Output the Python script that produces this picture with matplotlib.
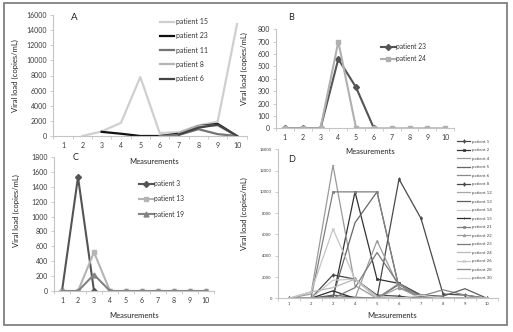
import matplotlib
matplotlib.use("Agg")
import matplotlib.pyplot as plt
import numpy as np
from matplotlib.patches import Rectangle

plt.rcParams['font.family'] = ['Lato', 'DejaVu Sans']

W, H = 513, 332
nan = np.nan

measurements = list(range(1, 11))
x_labels = [str(m) for m in measurements]

# ---------- Panel A ----------
a_names = ["patient 15", "patient 23", "patient 11", "patient 8", "patient 6"]
a_p15 = [nan, 0, 600, 1750, 7800, 400, 500, 1400, 1900, 14800]
a_p23 = [nan, nan, 550, 300, 0, 0, 300, 1300, 1600, 0]
a_p11 = [nan, nan, nan, nan, nan, 0, 150, 900, 250, 0]
a_p8 = [nan, nan, nan, nan, nan, nan, 400, 1300, 1400, 0]
a_p6 = [nan, nan, nan, nan, nan, nan, 200, 1100, 1500, 0]
a_colors = ["#cfcfcf", "#111111", "#747474", "#b4b4b4", "#444444"]

# ---------- Panel B ----------
b_names = ["patient 23", "patient 24"]
b_p23 = [0, 0, 0, 560, 330, 0, nan, nan, nan, nan]
b_p24 = [0, 0, 0, 700, 0, 0, 0, 0, 0, 0]

# ---------- Panel C ----------
c_names = ["patient 3", "patient 13", "patient 19"]
c_p3 = [0, 1530, 0, nan, nan, nan, nan, nan, nan, nan]
c_p13 = [0, 0, 520, 0, 0, 0, 0, 0, 0, 0]
c_p19 = [0, 0, 220, 0, 0, 0, 0, 0, 0, 0]

# ---------- Panel D ----------
d_names = ["patient 1", "patient 2", "patient 4", "patient 5", "patient 6",
           "patient 8", "patient 12", "patient 13", "patient 14", "patient 15",
           "patient 21", "patient 22", "patient 23", "patient 24", "patient 26",
           "patient 28", "patient 30"]
d_values = [
    [0, 0, 0, 0, 0, 11200, 7500, 400, 300, 0],        # 1
    [0, 0, 0, 10000, 1800, 1400, 300, 0, 0, 0],       # 2
    [0, 400, 12500, 1200, 0, 0, 0, 0, 0, 0],          # 4
    [0, 0, 200, 7100, 10000, 1000, 200, 0, 0, 0],     # 5
    [0, 0, 0, 0, 0, 0, 200, 800, 300, 0],             # 6
    [0, 0, 2200, 1800, 300, 200, 0, 0, 0, 0],         # 8
    [0, 0, 0, 0, 0, 1000, 300, 0, 0, 0],              # 12
    [0, 0, 300, 100, 0, 1300, 300, 200, 900, 0],      # 13
    [0, 0, 1700, 1800, 0, 0, 0, 0, 0, 0],             # 14
    [0, 0, 700, 0, 0, 0, 0, 0, 0, 0],                 # 15
    [0, 0, 10000, 10000, 10000, 1000, 200, 0, 0, 0],  # 21
    [0, 0, 0, 0, 5400, 1000, 0, 0, 0, 0],             # 22
    [0, 0, 0, 1000, 4300, 1300, 0, 0, 0, 0],          # 23
    [0, 600, 1000, 1800, 200, 0, 0, 0, 0, 0],         # 24
    [0, 600, 6500, 1800, 0, 0, 0, 0, 0, 0],           # 26
    [0, 0, 0, 0, 0, 1400, 0, 0, 0, 0],                # 28
    [0, 0, 0, 0, 0, 0, 300, 0, 0, 0],                 # 30
]
d_colors = ["#4a4a4a", "#333333", "#9a9a9a", "#666666", "#8a8a8a",
            "#474747", "#a5a5a5", "#5e5e5e", "#c8c8c8", "#2e2e2e",
            "#808080", "#9c9c9c", "#7a7a7a", "#b8b8b8", "#c4c4c4",
            "#8e8e8e", "#d2d2d2"]
d_markers = ["d", "s", "_", None, None, "d", None, None, None, "+",
             "s", "^", None, None, "x", None, None]

fig = plt.figure(figsize=(W / 100, H / 100), dpi=100)
fig.patch.set_facecolor("white")


def add_axes(l, t, r, b):
    return fig.add_axes([l / W, 1 - b / H, (r - l) / W, (b - t) / H])


def style(ax, ymax, ystep, tick_fs):
    ax.set_xlim(0.5, 10.5)
    ax.set_ylim(0, ymax)
    ax.set_yticks(np.arange(0, ymax + 1, ystep))
    ax.set_xticks(measurements)
    ax.set_xticklabels(x_labels)
    ax.set_xticks(np.arange(0.5, 11, 1), minor=True)
    for s in ["top", "right"]:
        ax.spines[s].set_visible(False)
    for s in ["left", "bottom"]:
        ax.spines[s].set_color("#c4c4c4")
        ax.spines[s].set_linewidth(0.8)
    ax.tick_params(axis="x", which="major", length=0, labelsize=tick_fs, pad=4)
    ax.tick_params(axis="x", which="minor", length=2, color="#c4c4c4", width=0.6)
    ax.tick_params(axis="y", length=2.5, color="#c4c4c4", width=0.6, labelsize=tick_fs, pad=2)
    ax.tick_params(axis="both", labelcolor="#3a3a3a")
    ax.set_facecolor("none")


# ---- Panel A ----
axA = add_axes(53.3, 15, 246.7, 136)
for vals, name, col in zip([a_p15, a_p23, a_p11, a_p8, a_p6], a_names, a_colors):
    axA.plot(measurements, vals, color=col, lw=1.6, label=name)
style(axA, 16000, 2000, 5)
axA.set_xlabel("Measurements", fontsize=5.5, color="#222222")
axA.xaxis.set_label_coords(0.52, -0.18)
axA.set_ylabel("Viral load (copies/mL)", fontsize=5.5, color="#222222")
axA.yaxis.set_label_coords(-0.175, 0.5)
fig.text(74 / W, 1 - 18 / H, "A", fontsize=7, ha="center", va="center", color="#222222")
legA = axA.legend(loc="upper left", bbox_to_anchor=(160 / W, 1 - 18 / H), bbox_transform=fig.transFigure,
                  frameon=False, fontsize=5, handlelength=2.0, handletextpad=0.3, labelspacing=1.05,
                  borderpad=0, borderaxespad=0)
for t in legA.get_texts():
    t.set_color("#333333")

# ---- Panel B ----
axB = add_axes(276, 29.3, 454, 128.3)
axB.plot(measurements, b_p23, color="#545454", lw=1.5, marker="D", ms=3, label=b_names[0])
axB.plot(measurements, b_p24, color="#b0b0b0", lw=1.5, marker="s", ms=3.5, label=b_names[1])
style(axB, 800, 100, 5)
axB.set_xlabel("Measurements", fontsize=5.5, color="#222222")
axB.xaxis.set_label_coords(0.53, -0.2)
axB.set_ylabel("Viral load (copies/mL)", fontsize=5.5, color="#222222")
axB.yaxis.set_label_coords(-0.16, 0.6)
fig.text(291 / W, 1 - 18 / H, "B", fontsize=6.5, ha="center", va="center", color="#222222")
legB = axB.legend(loc="upper left", bbox_to_anchor=(381 / W, 1 - 43 / H), bbox_transform=fig.transFigure,
                  frameon=False, fontsize=4.8, handlelength=2.2, handletextpad=0.1, labelspacing=0.8,
                  borderpad=0, borderaxespad=0)
for t in legB.get_texts():
    t.set_color("#333333")

# ---- Panel C ----
axC = add_axes(54, 157, 214, 291)
axC.plot(measurements, c_p3, color="#545454", lw=1.5, marker="D", ms=3, label=c_names[0])
axC.plot(measurements, c_p13, color="#b4b4b4", lw=1.5, marker="s", ms=3.5, label=c_names[1])
axC.plot(measurements, c_p19, color="#838383", lw=1.5, marker="^", ms=3.5, label=c_names[2])
style(axC, 1800, 200, 5)
axC.set_xlabel("Measurements", fontsize=5.5, color="#222222")
axC.xaxis.set_label_coords(0.5, -0.16)
axC.set_ylabel("Viral load (copies/mL)", fontsize=5.5, color="#222222")
axC.yaxis.set_label_coords(-0.215, 0.6)
fig.text(76 / W, 1 - 158 / H, "C", fontsize=6.5, ha="center", va="center", color="#222222")
legC = axC.legend(loc="upper left", bbox_to_anchor=(139 / W, 1 - 180 / H), bbox_transform=fig.transFigure,
                  frameon=False, fontsize=4.8, handlelength=2.2, handletextpad=0.1, labelspacing=1.25,
                  borderpad=0, borderaxespad=0)
for t in legC.get_texts():
    t.set_color("#333333")

# ---- Panel D ----
axD = add_axes(278, 149.3, 498, 298.3)
for vals, name, col, mk in zip(d_values, d_names, d_colors, d_markers):
    axD.plot(measurements, vals, color=col, lw=0.9, marker=mk, ms=1.9, mew=0.5, label=name)
style(axD, 14000, 2000, 3)
axD.tick_params(axis="x", which="major", pad=2.5)
axD.set_xlabel("Measurements", fontsize=5.5, color="#222222")
axD.xaxis.set_label_coords(0.52, -0.09)
axD.set_ylabel("Viral load (copies/mL)", fontsize=5.5, color="#222222")
axD.yaxis.set_label_coords(-0.135, 0.57)
fig.text(292 / W, 1 - 159 / H, "D", fontsize=6.5, ha="center", va="center", color="#222222")
legD = axD.legend(loc="upper left", bbox_to_anchor=(457 / W, 1 - 139.5 / H), bbox_transform=fig.transFigure,
                  frameon=False, fontsize=3.2, handlelength=3.0, handletextpad=0.3, labelspacing=1.0,
                  borderpad=0, borderaxespad=0)
for t in legD.get_texts():
    t.set_color("#444444")

# outer frame
fig.patches.append(Rectangle((4 / W, 1 - 325 / H), (507 - 4) / W, (325 - 3) / H,
                             transform=fig.transFigure, fill=False, ec="#808080", lw=1.3))

fig.savefig("out.png", dpi=100, facecolor="white")
